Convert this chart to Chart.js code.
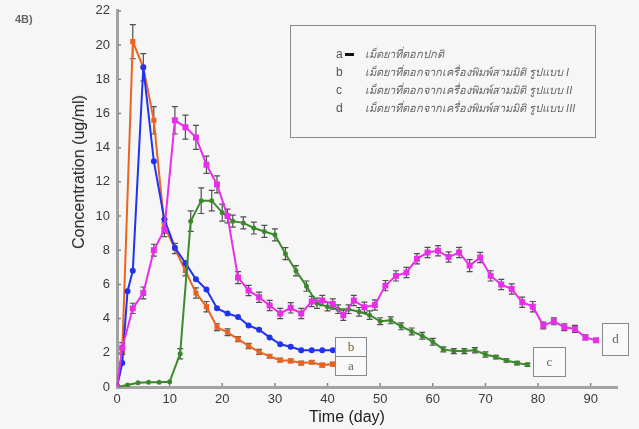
<!DOCTYPE html>
<html>
<head>
<meta charset="utf-8">
<script src="https://cdn.jsdelivr.net/npm/chart.js@4.4.1/dist/chart.umd.min.js"></script>
<style>
  html, body { margin: 0; padding: 0; background: #f6f6f6; }
  #wrap { position: relative; width: 639px; height: 429px; overflow: hidden; }
  #chart { position: absolute; left: 0; top: 0; }
  .tag { position: absolute; font: bold 11px "Liberation Sans", Arial, sans-serif; color: #666; }
  .axis_Title { position: absolute; font: 16px "Liberation Sans", Arial, sans-serif; color: #222; white-space: nowrap; }
  .y_Title { left: 79px; top: 172px; transform: translate(-50%, -50%) rotate(-90deg); }
  .x_Title { left: 347px; top: 417px; transform: translate(-50%, -50%); }
  .legend_Box { position: absolute; left: 290px; top: 25px; width: 306px; height: 113px;
    border: 1.5px solid #8a8a8a; box-sizing: border-box; }
  .legend_Row { position: absolute; left: 45px; font: 12px "Liberation Sans", Arial, sans-serif; color: #555; white-space: nowrap; }
  .legend_Row .key { display: inline-block; width: 29px; }
  .legend_Row .dash { display: inline-block; width: 9px; height: 3px; background: #111; vertical-align: middle; margin-left: -20px; margin-right: 11px; }
  .legend_Row .txt { font-size: 11px; font-style: italic; color: #666; }
  .end_Box { position: absolute; border: 1.5px solid #888; box-sizing: border-box; background: #f9f9f9;
    font: 13px "Liberation Serif", serif; color: #666; text-align: center; }
</style>
</head>
<body>
<div id="wrap">
  <canvas id="chart" width="639" height="429"></canvas>
  <div class="tag" style="left:15px; top:13px;">4B)</div>
  <div class="axis_Title y_Title">Concentration (ug/ml)</div>
  <div class="axis_Title x_Title">Time (day)</div>
  <div class="legend_Box">
    <div class="legend_Row" style="top:19px;"><span class="key">a</span><span class="dash"></span><span class="txt">เม็ดยาที่ตอกปกติ</span></div>
    <div class="legend_Row" style="top:37px;"><span class="key">b</span><span class="txt">เม็ดยาที่ตอกจากเครื่องพิมพ์สามมิติ รูปแบบ I</span></div>
    <div class="legend_Row" style="top:55px;"><span class="key">c</span><span class="txt">เม็ดยาที่ตอกจากเครื่องพิมพ์สามมิติ รูปแบบ II</span></div>
    <div class="legend_Row" style="top:73px;"><span class="key">d</span><span class="txt">เม็ดยาที่ตอกจากเครื่องพิมพ์สามมิติ รูปแบบ III</span></div>
  </div>
  <div class="end_Box" style="left:335px; top:337px; width:32px; height:21px; line-height:18px;">b</div>
  <div class="end_Box" style="left:335px; top:356px; width:32px; height:20px; line-height:17px;">a</div>
  <div class="end_Box" style="left:533px; top:347px; width:33px; height:30px; line-height:27px;">c</div>
  <div class="end_Box" style="left:602px; top:323px; width:27px; height:33px; line-height:30px;">d</div>
</div>
<script>
// tick labels
const xTicks = [0, 10, 20, 30, 40, 50, 60, 70, 80, 90];
const yTicks = [0, 2, 4, 6, 8, 10, 12, 14, 16, 18, 20, 22];

// a - normal tablet
const days_A = [0, 1, 3, 5, 7, 9, 11, 13, 15, 17, 19, 21, 23, 25, 27, 29, 31, 33, 35, 37, 39, 41];
const conc_A = [0, 2.1, 20.2, 18.7, 15.6, 9.4, 8.1, 6.8, 5.5, 4.7, 3.5, 3.2, 2.8, 2.4, 2.05, 1.8, 1.57, 1.53, 1.4, 1.45, 1.28, 1.34];
const err_A = [0, 0.2, 1.0, 0.8, 0.8, 0.4, 0.3, 0.3, 0.3, 0.3, 0.2, 0.2, 0.15, 0.15, 0.15, 0.1, 0.1, 0.1, 0.1, 0.1, 0.1, 0.1];

// b - form I
const days_B = [0, 1, 2, 3, 5, 7, 9, 11, 13, 15, 17, 19, 21, 23, 25, 27, 29, 31, 33, 35, 37, 39, 41];
const conc_B = [0, 1.4, 5.6, 6.8, 18.7, 13.2, 9.8, 8.15, 7.25, 6.3, 5.7, 4.6, 4.3, 4.1, 3.6, 3.35, 2.9, 2.5, 2.35, 2.15, 2.15, 2.15, 2.15];

// c - form II
const days_C = [0, 2, 4, 6, 8, 10, 12, 14, 16, 18, 20, 22, 24, 26, 28, 30, 32, 34, 36, 38,
  40, 42, 44, 46, 48, 50, 52, 54, 56, 58, 60, 62, 64, 66, 68, 70, 72, 74, 76, 78];
const conc_C = [0, 0.12, 0.25, 0.28, 0.28, 0.3, 1.95, 9.7, 10.9, 10.9, 10.2, 9.7, 9.6, 9.3, 9.1, 8.9, 7.8, 6.8, 5.9, 4.9,
  4.7, 4.55, 4.55, 4.4, 4.2, 3.85, 3.9, 3.55, 3.25, 3.0, 2.65, 2.2, 2.1, 2.1, 2.15, 1.9, 1.75, 1.55, 1.4, 1.3];
const err_C = [0, 0, 0, 0, 0, 0, 0.3, 0.6, 0.75, 0.6, 0.5, 0.35, 0.35, 0.35, 0.35, 0.35, 0.35, 0.3, 0.3, 0.3,
  0.25, 0.25, 0.25, 0.25, 0.25, 0.2, 0.2, 0.2, 0.2, 0.2, 0.2, 0.15, 0.15, 0.15, 0.15, 0.15, 0.1, 0.1, 0.1, 0.1];

// d - form III
const days_D = [0, 1, 3, 5, 7, 9, 11, 13, 15, 17, 19, 21, 23, 25, 27, 29, 31, 33, 35, 37, 39, 41, 43, 45,
  47, 49, 51, 53, 55, 57, 59, 61, 63, 65, 67, 69, 71, 73, 75, 77, 79, 81, 83, 85, 87, 89, 91];
const conc_D = [0, 2.3, 4.6, 5.5, 8.0, 9.2, 15.6, 15.2, 14.6, 13.0, 11.85, 10.0, 6.4, 5.65, 5.25, 4.77, 4.3, 4.63, 4.3, 5.0, 5.06, 4.86, 4.2, 5.06,
  4.67, 4.8, 5.93, 6.5, 6.7, 7.5, 7.87, 7.97, 7.6, 7.87, 7.1, 7.58, 6.5, 6.0, 5.73, 4.96, 4.7, 3.6, 3.84, 3.5, 3.4, 2.9, 2.73];
const err_D = [0, 0.3, 0.3, 0.35, 0.35, 0.4, 0.8, 0.7, 0.7, 0.5, 0.5, 0.4, 0.35, 0.3, 0.3, 0.3, 0.3, 0.3, 0.3, 0.3, 0.3, 0.3, 0.3, 0.3,
  0.3, 0.3, 0.3, 0.3, 0.3, 0.3, 0.3, 0.3, 0.3, 0.3, 0.35, 0.3, 0.3, 0.3, 0.3, 0.3, 0.3, 0.2, 0.2, 0.2, 0.2, 0.15, 0.1];

function make_Points(days, conc) {
  return days.map((d, i) => ({ x: d, y: conc[i] }));
}

// error bars from each dataset's err array, plus small inward tick marks
const error_Bars = {
  id: "errorBars",
  beforeDatasetsDraw(chart) {
    const ctx = chart.ctx;
    const xs = chart.scales.x;
    const ys = chart.scales.y;
    ctx.save();
    ctx.strokeStyle = "rgba(50,50,50,0.85)";
    ctx.lineWidth = 1.2;
    chart.data.datasets.forEach((ds) => {
      if (!ds.err) return;
      ds.data.forEach((p, i) => {
        const e = ds.err[i];
        if (!e) return;
        const px = xs.getPixelForValue(p.x);
        const top = ys.getPixelForValue(p.y + e);
        const bot = ys.getPixelForValue(p.y - e);
        ctx.beginPath();
        ctx.moveTo(px, top); ctx.lineTo(px, bot);
        ctx.moveTo(px - 3, top); ctx.lineTo(px + 3, top);
        ctx.moveTo(px - 3, bot); ctx.lineTo(px + 3, bot);
        ctx.stroke();
      });
    });
    // inward ticks
    ctx.strokeStyle = "#888";
    ctx.lineWidth = 1.5;
    const area = chart.chartArea;
    ctx.beginPath();
    xTicks.forEach((v) => {
      const px = xs.getPixelForValue(v);
      ctx.moveTo(px, area.bottom - 1); ctx.lineTo(px, area.bottom - 4);
    });
    yTicks.forEach((v) => {
      const py = ys.getPixelForValue(v);
      ctx.moveTo(area.left + 1, py); ctx.lineTo(area.left + 4, py);
    });
    ctx.stroke();
    ctx.restore();
  },
};

const tick_Font = { family: "'Liberation Sans', Arial, sans-serif", size: 13 };
const y_Tick_Font = { family: "'Liberation Sans', Arial, sans-serif", size: 13, lineHeight: 0.6 };

new Chart(document.getElementById("chart"), {
  type: "line",
  data: {
    datasets: [
      {
        label: "d",
        data: make_Points(days_D, conc_D),
        err: err_D,
        borderColor: "#e82ee8",
        backgroundColor: "#e82ee8",
        borderWidth: 2,
        pointStyle: "rect",
        pointRadius: 2.8,
        tension: 0,
      },
      {
        label: "c",
        data: make_Points(days_C, conc_C),
        err: err_C,
        borderColor: "#3d8a2e",
        backgroundColor: "#2f6f22",
        borderWidth: 2,
        pointRadius: 1.5,
        tension: 0,
      },
      {
        label: "b",
        data: make_Points(days_B, conc_B),
        borderColor: "#2233ee",
        backgroundColor: "#2233ee",
        borderWidth: 2,
        pointRadius: 2,
        tension: 0,
      },
      {
        label: "a",
        data: make_Points(days_A, conc_A),
        err: err_A,
        borderColor: "#ec6420",
        backgroundColor: "#e0561a",
        borderWidth: 2,
        pointStyle: "rect",
        pointRadius: 2.2,
        tension: 0,
      },
    ],
  },
  options: {
    responsive: false,
    devicePixelRatio: 1,
    animation: false,
    layout: { padding: { top: 3, right: 22, left: 0, bottom: 0 } },
    plugins: { legend: { display: false }, tooltip: { enabled: false } },
    scales: {
      x: {
        type: "linear",
        min: 0,
        max: 95,
        afterFit: (s) => { s.height = 42; },
        afterBuildTicks: (s) => { s.ticks = xTicks.map((v) => ({ value: v })); },
        grid: { display: false, drawTicks: false },
        border: { display: true, color: "#a3a3a3", width: 3 },
        ticks: { padding: 5, color: "#3a3a3a", font: tick_Font },
      },
      y: {
        min: 0,
        max: 22,
        afterFit: (s) => { s.width = 117; },
        afterBuildTicks: (s) => { s.ticks = yTicks.map((v) => ({ value: v })); },
        grid: { display: false, drawTicks: false },
        border: { display: true, color: "#a3a3a3", width: 3 },
        ticks: { padding: 7, color: "#3a3a3a", font: y_Tick_Font },
      },
    },
  },
  plugins: [error_Bars],
});
</script>
</body>
</html>
